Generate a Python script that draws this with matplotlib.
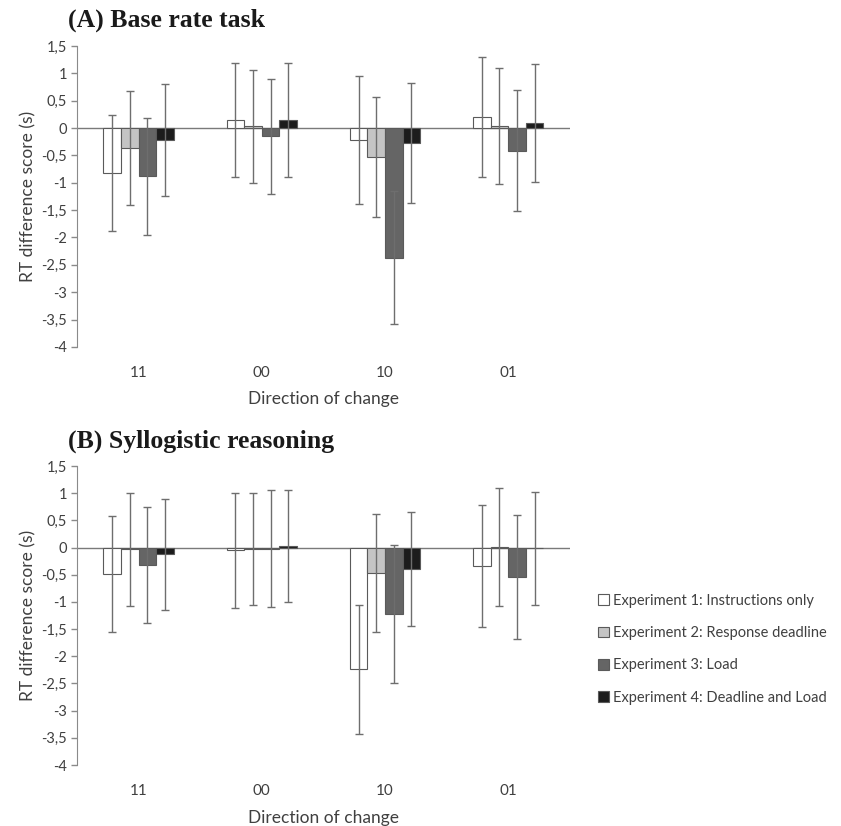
import matplotlib
matplotlib.use("Agg")
import matplotlib.pyplot as plt
import numpy as np
from matplotlib.patches import Patch

categories = ["11", "00", "10", "01"]
series_names = ["Experiment 1: Instructions only",
                "Experiment 2: Response deadline",
                "Experiment 3: Load",
                "Experiment 4: Deadline and Load"]

# Panel A: Base rate task (means and error half-widths), per series across categories
a_exp1 = [-0.83, 0.15, -0.22, 0.20]
a_exp2 = [-0.37, 0.03, -0.53, 0.03]
a_exp3 = [-0.88, -0.15, -2.37, -0.41]
a_exp4 = [-0.22, 0.15, -0.27, 0.09]
a_err1 = [1.06, 1.04, 1.17, 1.09]
a_err2 = [1.04, 1.04, 1.10, 1.06]
a_err3 = [1.07, 1.05, 1.22, 1.10]
a_err4 = [1.03, 1.04, 1.10, 1.08]

# Panel B: Syllogistic reasoning
b_exp1 = [-0.48, -0.05, -2.24, -0.34]
b_exp2 = [-0.03, -0.02, -0.47, 0.01]
b_exp3 = [-0.32, -0.02, -1.22, -0.54]
b_exp4 = [-0.12, 0.03, -0.40, -0.01]
b_err1 = [1.065, 1.055, 1.19, 1.13]
b_err2 = [1.04, 1.03, 1.085, 1.08]
b_err3 = [1.065, 1.07, 1.27, 1.14]
b_err4 = [1.02, 1.025, 1.05, 1.04]

yticks = [1.5, 1, 0.5, 0, -0.5, -1, -1.5, -2, -2.5, -3, -3.5, -4]
ytick_labels = ["1,5", "1", "0,5", "0", "-0,5", "-1", "-1,5", "-2", "-2,5", "-3", "-3,5", "-4"]

face_colors = ["#ffffff", "#c4c4c4", "#656565", "#1c1c1c"]
edge_color = "#5a5a5a"
err_color = "#6e6e6e"
text_color = "#404040"

sans = ["Lato", "DejaVu Sans"]
serif = ["Liberation Serif", "DejaVu Serif"]

fig = plt.figure(figsize=(8.41, 8.26), dpi=100)

def draw_panel(ax, means, errs, title):
    n = len(means)
    w = 0.143
    x = np.arange(len(categories))
    for j in range(n):
        pos = x + (j - (n - 1) / 2) * w
        ax.bar(pos, means[j], width=w, color=face_colors[j], edgecolor=edge_color,
               linewidth=0.8, zorder=2)
        ax.errorbar(pos, means[j], yerr=errs[j], fmt="none", ecolor=err_color,
                    elinewidth=1.0, capsize=3.2, capthick=1.0, zorder=3)
    ax.axhline(0, color="#7a7a7a", linewidth=1.0, zorder=1)
    ax.set_xlim(-0.5, 3.5)
    ax.set_ylim(-4, 1.5)
    ax.set_yticks(yticks)
    ax.set_yticklabels(ytick_labels, fontfamily=sans, fontsize=10.5, color=text_color)
    ax.set_xticks(x)
    ax.set_xticklabels(categories, fontfamily=sans, fontsize=11, color=text_color)
    ax.tick_params(axis="x", length=0, pad=14)
    ax.tick_params(axis="y", length=4, color="#8a8a8a", width=1, pad=3)
    for s in ["top", "right", "bottom"]:
        ax.spines[s].set_visible(False)
    ax.spines["left"].set_color("#8a8a8a")
    ax.set_ylabel("RT difference score (s)", fontfamily=sans, fontsize=12.5,
                  color=text_color, labelpad=4)
    ax.set_xlabel("Direction of change", fontfamily=sans, fontsize=12.5,
                  color=text_color, labelpad=8)
    ax.text(-0.018, 1.045, title, transform=ax.transAxes, fontfamily=serif,
            fontweight="bold", fontsize=18.5, color="#1a1a1a", ha="left", va="bottom")

ax1 = fig.add_axes([0.0916, 0.580, 0.586, 0.3643])
draw_panel(ax1, [a_exp1, a_exp2, a_exp3, a_exp4], [a_err1, a_err2, a_err3, a_err4],
           "(A) Base rate task")

ax2 = fig.add_axes([0.0916, 0.0738, 0.586, 0.362])
draw_panel(ax2, [b_exp1, b_exp2, b_exp3, b_exp4], [b_err1, b_err2, b_err3, b_err4],
           "(B) Syllogistic reasoning")

handles = [Patch(facecolor=face_colors[j], edgecolor=edge_color, linewidth=0.8)
           for j in range(4)]
leg = fig.legend(handles, series_names, loc="center left",
                 bbox_to_anchor=(0.695, 0.214), frameon=False,
                 prop={"family": sans, "size": 10.5}, handlelength=0.75,
                 handleheight=0.75, handletextpad=0.3, labelspacing=1.25)
for t in leg.get_texts():
    t.set_color(text_color)

fig.savefig("out.png", dpi=100)
